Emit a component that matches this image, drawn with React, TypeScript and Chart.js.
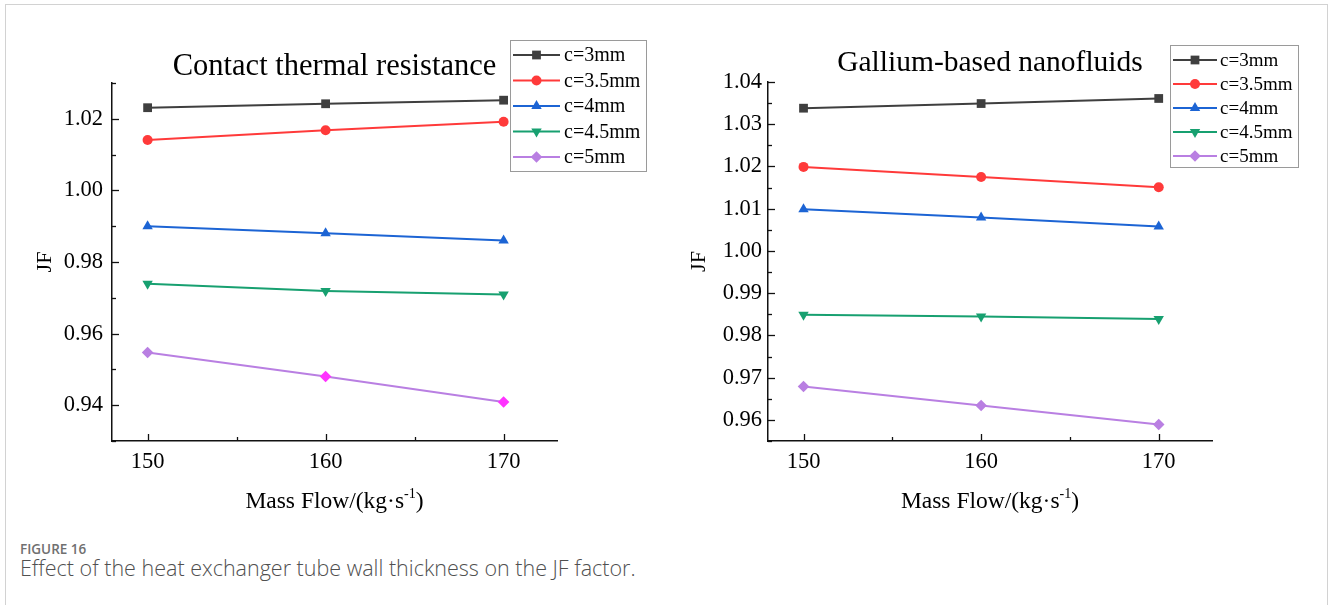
import React, { useEffect, useRef } from "react";
import { Chart, registerables } from "chart.js";

Chart.register(...registerables);

// ---------- data ----------
const massFlow = [150, 160, 170];
const seriesLabels = ["c=3mm", "c=3.5mm", "c=4mm", "c=4.5mm", "c=5mm"];

const contactC3 = [1.0231, 1.0242, 1.0252];
const contactC35 = [1.0141, 1.0168, 1.0192];
const contactC4 = [0.990, 0.988, 0.986];
const contactC45 = [0.9739, 0.9719, 0.9709];
const contactC5 = [0.9547, 0.948, 0.9409];

const galliumC3 = [1.0338, 1.0349, 1.0361];
const galliumC35 = [1.0199, 1.0175, 1.0151];
const galliumC4 = [1.0099, 1.0079, 1.0058];
const galliumC45 = [0.9849, 0.9845, 0.9839];
const galliumC5 = [0.9679, 0.9634, 0.9589];

const xTicks = [150, 160, 170];
const xMinorTicks = [155, 165];
const contactYTicks = [0.94, 0.96, 0.98, 1.0, 1.02];
const contactYMinor = [0.93, 0.95, 0.97, 0.99, 1.01, 1.03];
const galliumYTicks = [0.96, 0.97, 0.98, 0.99, 1.0, 1.01, 1.02, 1.03, 1.04];
const galliumYMinor = [0.955, 0.965, 0.975, 0.985, 0.995, 1.005, 1.015, 1.025, 1.035];

const contactTitle = "Contact thermal resistance";
const galliumTitle = "Gallium-based nanofluids";
const yAxisTitle = "JF";
const xAxisTitleMain = "Mass Flow/(kg·s";
const xAxisTitleSup = "-1";
const xAxisTitleEnd = ")";

// ---------- styles ----------
const SERIF = "'Liberation Serif', 'Times New Roman', Times, serif";
const seriesStyles = [
  { color: "#3f3f3f", point: "rect", rotation: 0, radius: 6.2 },
  { color: "#ff3a3a", point: "circle", rotation: 0, radius: 5 },
  { color: "#1c64d4", point: "triangle", rotation: 0, radius: 6 },
  { color: "#17a070", point: "triangle", rotation: 180, radius: 6 },
  { color: "#b97fe2", point: "rectRot", rotation: 0, radius: 5.8 },
];

function drawMarker(ctx: CanvasRenderingContext2D, style: string, rotation: number, x: number, y: number, r: number, color: string) {
  ctx.save();
  ctx.fillStyle = color;
  ctx.beginPath();
  if (style === "rect") {
    const s = Math.SQRT1_2 * r;
    ctx.rect(x - s, y - s, 2 * s, 2 * s);
  } else if (style === "circle") {
    ctx.arc(x, y, r, 0, Math.PI * 2);
  } else if (style === "triangle") {
    const dir = rotation === 180 ? -1 : 1;
    const h = r * 1.5;
    const w = r * Math.sqrt(3);
    ctx.moveTo(x, y - dir * r);
    ctx.lineTo(x + w / 2, y - dir * (r - h));
    ctx.lineTo(x - w / 2, y - dir * (r - h));
    ctx.closePath();
  } else if (style === "rectRot") {
    ctx.moveTo(x, y - r);
    ctx.lineTo(x + r, y);
    ctx.lineTo(x, y + r);
    ctx.lineTo(x - r, y);
    ctx.closePath();
  }
  ctx.fill();
  ctx.restore();
}

const overlayPlugin = {
  id: "overlay",
  afterDraw(chart: any, _args: any, opts: any) {
    const ctx: CanvasRenderingContext2D = chart.ctx;
    const xs = chart.scales.x;
    const ys = chart.scales.y;
    const area = chart.chartArea;
    ctx.save();
    // inner ticks
    ctx.strokeStyle = "#111";
    ctx.lineWidth = 1.3;
    const tick = (x1: number, y1: number, x2: number, y2: number) => {
      ctx.beginPath();
      ctx.moveTo(x1, y1);
      ctx.lineTo(x2, y2);
      ctx.stroke();
    };
    opts.yMajor.forEach((v: number) => {
      const y = Math.round(ys.getPixelForValue(v)) + 0.5;
      tick(area.left, y, area.left + 7, y);
    });
    opts.yMinor.forEach((v: number) => {
      const y = Math.round(ys.getPixelForValue(v)) + 0.5;
      tick(area.left, y, area.left + 4, y);
    });
    opts.xMajor.forEach((v: number) => {
      const x = Math.round(xs.getPixelForValue(v)) + 0.5;
      tick(x, area.bottom, x, area.bottom - 7);
    });
    opts.xMinor.forEach((v: number) => {
      const x = Math.round(xs.getPixelForValue(v)) + 0.5;
      tick(x, area.bottom, x, area.bottom - 4);
    });

    ctx.fillStyle = "#000";
    // title
    ctx.font = `${opts.titleSize}px ${SERIF}`;
    ctx.textAlign = "center";
    ctx.textBaseline = "middle";
    ctx.fillText(opts.title, (area.left + area.right) / 2, opts.titleY);

    // y axis title
    ctx.save();
    ctx.translate(opts.yLabelX, (area.top + area.bottom) / 2);
    ctx.rotate(-Math.PI / 2);
    ctx.font = `${opts.yTitleSize}px ${SERIF}`;
    ctx.fillText(yAxisTitle, 0, 0);
    ctx.restore();

    // x axis title with superscript
    const fs = opts.axisTitleSize;
    ctx.textAlign = "left";
    ctx.textBaseline = "alphabetic";
    ctx.font = `${fs}px ${SERIF}`;
    const w1 = ctx.measureText(xAxisTitleMain).width;
    const w3 = ctx.measureText(xAxisTitleEnd).width;
    ctx.font = `${fs * 0.6}px ${SERIF}`;
    const w2 = ctx.measureText(xAxisTitleSup).width;
    let x0 = (area.left + area.right) / 2 - (w1 + w2 + w3) / 2;
    const base = opts.xLabelY + fs * 0.33;
    ctx.font = `${fs}px ${SERIF}`;
    ctx.fillText(xAxisTitleMain, x0, base);
    x0 += w1;
    ctx.font = `${fs * 0.6}px ${SERIF}`;
    ctx.fillText(xAxisTitleSup, x0, base - fs * 0.42);
    x0 += w2;
    ctx.font = `${fs}px ${SERIF}`;
    ctx.fillText(xAxisTitleEnd, x0, base);

    // legend
    const lg = opts.legend;
    ctx.fillStyle = "#fff";
    ctx.fillRect(lg.x, lg.y, lg.w, lg.h);
    ctx.strokeStyle = "#9a9a9a";
    ctx.lineWidth = 1;
    ctx.strokeRect(lg.x + 0.5, lg.y + 0.5, lg.w, lg.h);
    ctx.font = `${lg.fontSize}px ${SERIF}`;
    ctx.textBaseline = "middle";
    ctx.textAlign = "left";
    chart.data.datasets.forEach((ds: any, i: number) => {
      const st = seriesStyles[i];
      const y = lg.y + lg.firstRow + i * lg.rowH;
      ctx.strokeStyle = st.color;
      ctx.lineWidth = 2;
      ctx.beginPath();
      ctx.moveTo(lg.x + lg.lineStart, y);
      ctx.lineTo(lg.x + lg.lineEnd, y);
      ctx.stroke();
      drawMarker(ctx, st.point, st.rotation, lg.x + (lg.lineStart + lg.lineEnd) / 2, y, st.radius, st.color);
      ctx.fillStyle = "#000";
      ctx.fillText(ds.label, lg.x + lg.textX, y + 1);
    });
    ctx.restore();
  },
};

type Panel = {
  series: number[][];
  yMin: number;
  yMax: number;
  yTicks: number[];
  yMinor: number[];
  title: string;
  titleY: number;
  titleSize: number;
  yLabelX: number;
  yAxisWidth: number;
  padRight: number;
  padTop: number;
  tickPad: number;
  legend: any;
  c5PointColors: string[];
};

const CANVAS_W = 665;
const CANVAS_H = 530;
const X_AXIS_H = 40;
const AREA_BOTTOM = 441;

function buildConfig(p: Panel): any {
  const datasets = p.series.map((vals, i) => {
    const st = seriesStyles[i];
    const pointColors = i === 4 ? p.c5PointColors : st.color;
    return {
      label: seriesLabels[i],
      data: massFlow.map((x, j) => ({ x, y: vals[j] })),
      borderColor: st.color,
      backgroundColor: pointColors,
      pointBackgroundColor: pointColors,
      pointBorderColor: pointColors,
      pointBorderWidth: 0,
      borderWidth: 2,
      pointStyle: st.point,
      pointRotation: st.rotation,
      pointRadius: st.radius,
      tension: 0,
    };
  });
  return {
    type: "line",
    data: { datasets },
    plugins: [overlayPlugin],
    options: {
      animation: false,
      responsive: false,
      events: [],
      layout: {
        padding: {
          left: 0,
          right: p.padRight,
          top: p.padTop,
          bottom: CANVAS_H - AREA_BOTTOM - X_AXIS_H,
        },
      },
      plugins: {
        legend: { display: false },
        title: { display: false },
        tooltip: { enabled: false },
        overlay: {
          title: p.title,
          titleY: p.titleY,
          titleSize: p.titleSize,
          axisTitleSize: 23.5,
          yTitleSize: 22,
          yLabelX: p.yLabelX,
          xLabelY: 500,
          yMajor: p.yTicks,
          yMinor: p.yMinor,
          xMajor: xTicks,
          xMinor: xMinorTicks,
          legend: p.legend,
        },
      },
      scales: {
        x: {
          type: "linear",
          min: 148,
          max: 173,
          afterBuildTicks: (s: any) => {
            s.ticks = xTicks.map((v) => ({ value: v }));
          },
          afterFit: (s: any) => {
            s.height = X_AXIS_H;
          },
          grid: { display: false, drawTicks: false },
          border: { display: true, color: "#111", width: 1.5 },
          ticks: {
            padding: 8,
            color: "#000",
            font: { family: SERIF, size: 22.5 },
            maxRotation: 0,
            callback: (v: any) => String(v),
          },
        },
        y: {
          type: "linear",
          min: p.yMin,
          max: p.yMax,
          afterBuildTicks: (s: any) => {
            s.ticks = p.yTicks.map((v) => ({ value: v }));
          },
          afterFit: (s: any) => {
            s.width = p.yAxisWidth;
          },
          grid: { display: false, drawTicks: false },
          border: { display: true, color: "#111", width: 1.5 },
          ticks: {
            padding: p.tickPad,
            color: "#000",
            font: { family: SERIF, size: 22.5 },
            callback: (v: any) => Number(v).toFixed(2),
          },
        },
      },
    },
  };
}

const contactPanel: Panel = {
  series: [contactC3, contactC35, contactC4, contactC45, contactC5],
  yMin: 0.93,
  yMax: 1.03,
  yTicks: contactYTicks,
  yMinor: contactYMinor,
  title: contactTitle,
  titleY: 67,
  titleSize: 30.5,
  yLabelX: 45,
  yAxisWidth: 112,
  padRight: CANVAS_W - 557,
  padTop: 83,
  tickPad: 9,
  legend: { x: 510, y: 40, w: 136, h: 131, firstRow: 15, rowH: 25.5, lineStart: 3, lineEnd: 50, textX: 54, fontSize: 20 },
  c5PointColors: ["#b97fe2", "#ff33ff", "#ff33ff"],
};

const galliumPanel: Panel = {
  series: [galliumC3, galliumC35, galliumC4, galliumC45, galliumC5],
  yMin: 0.955,
  yMax: 1.04,
  yTicks: galliumYTicks,
  yMinor: galliumYMinor,
  title: galliumTitle,
  titleY: 63,
  titleSize: 29.5,
  yLabelX: 34,
  yAxisWidth: 103,
  padRight: CANVAS_W - 547,
  padTop: 82,
  tickPad: 6,
  legend: { x: 505, y: 45, w: 128, h: 122, firstRow: 15, rowH: 24, lineStart: 3, lineEnd: 47, textX: 50, fontSize: 19 },
  c5PointColors: ["#b97fe2", "#b97fe2", "#b97fe2"],
};

function ChartPanel({ panel, left }: { panel: Panel; left: number }) {
  const ref = useRef<HTMLCanvasElement | null>(null);
  useEffect(() => {
    if (!ref.current) return;
    const chart = new Chart(ref.current, buildConfig(panel));
    return () => chart.destroy();
  }, [panel]);
  return (
    <canvas
      ref={ref}
      width={CANVAS_W}
      height={CANVAS_H}
      style={{ position: "absolute", left, top: 0, width: CANVAS_W, height: CANVAS_H }}
    />
  );
}

export default function App() {
  return (
    <div style={{ position: "fixed", left: 0, top: 0, width: 1330, height: 605, background: "#fff", overflow: "hidden" }}>
      <div
        style={{
          position: "absolute",
          left: 5,
          top: 4,
          width: 1323,
          height: 700,
          borderTop: "1px solid #d2d2d2",
          borderLeft: "1px solid #d2d2d2",
          borderRight: "1px solid #d2d2d2",
          boxSizing: "border-box",
        }}
      />
      <ChartPanel panel={contactPanel} left={0} />
      <ChartPanel panel={galliumPanel} left={665} />
      <div
        style={{
          position: "absolute",
          left: 20,
          top: 540,
          fontFamily: "'Open Sans', 'Noto Sans', sans-serif",
          fontWeight: 600,
          fontSize: 13.5,
          color: "#707070",
          lineHeight: "18px",
        }}
      >
        FIGURE 16
      </div>
      <div
        style={{
          position: "absolute",
          left: 20,
          top: 555,
          fontFamily: "'Open Sans', 'Noto Sans', sans-serif",
          fontWeight: 300,
          fontSize: 21.5,
          color: "#505050",
          lineHeight: "26px",
          whiteSpace: "nowrap",
        }}
      >
        Effect of the heat exchanger tube wall thickness on the JF factor.
      </div>
    </div>
  );
}
